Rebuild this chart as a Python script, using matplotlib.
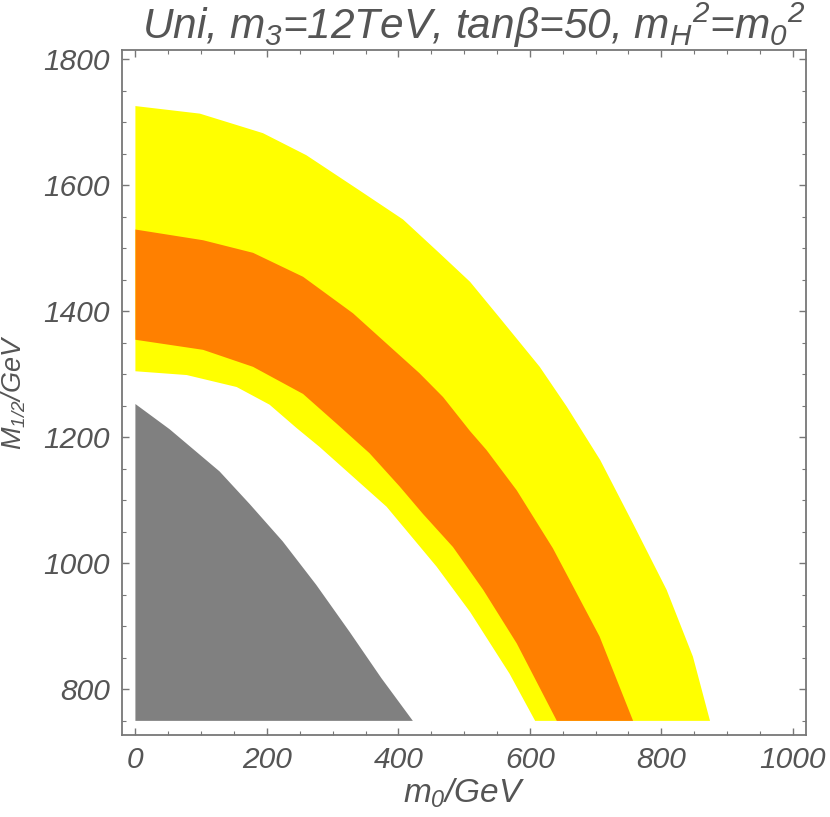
import matplotlib
matplotlib.use("Agg")
import matplotlib.pyplot as plt
from matplotlib.ticker import MultipleLocator

plt.rcParams['font.family'] = ['Liberation Sans', 'DejaVu Sans']
plt.rcParams['font.style'] = 'italic'
plt.rcParams['mathtext.fontset'] = 'custom'
plt.rcParams['mathtext.rm'] = 'Liberation Sans:italic'
plt.rcParams['mathtext.it'] = 'Liberation Sans:italic'
plt.rcParams['mathtext.sf'] = 'Liberation Sans:italic'

# boundary curves (m0 in GeV, M1/2 in GeV)
outer_yellow_x = [0, 98, 194, 260, 341, 407, 463, 509, 554, 615, 656, 707, 757, 808, 848, 874]
outer_yellow_y = [1726, 1714, 1683, 1648, 1592, 1546, 1492, 1447, 1390, 1312, 1249, 1164, 1063, 958, 852, 750]

inner_yellow_x = [0, 78, 154, 204, 245, 280, 382, 458, 509, 569, 608]
inner_yellow_y = [1305, 1299, 1280, 1252, 1215, 1185, 1090, 995, 923, 825, 750]

orange_top_x = [0, 103, 179, 255, 331, 382, 432, 468, 509, 534, 580, 635, 706, 757]
orange_top_y = [1530, 1513, 1493, 1455, 1397, 1349, 1302, 1264, 1210, 1180, 1116, 1024, 884, 750]

orange_bot_x = [0, 103, 179, 255, 308, 356, 402, 437, 483, 529, 580, 641]
orange_bot_y = [1355, 1339, 1312, 1269, 1220, 1175, 1122, 1079, 1026, 958, 873, 750]

gray_x = [0, 52, 128, 174, 224, 275, 326, 374, 422]
gray_y = [1253, 1213, 1146, 1094, 1035, 966, 891, 818, 750]

y_floor = 750

txt_color = '#555555'
frame_color = '#777777'


def band(top_x, top_y, bot_x, bot_y):
    # polygon between an upper and a lower boundary curve
    xs = list(top_x) + list(reversed(bot_x))
    ys = list(top_y) + list(reversed(bot_y))
    return xs, ys


fig = plt.figure(figsize=(8.3, 8.17), dpi=100)
ax = fig.add_axes([0.1473, 0.1007, 0.8238, 0.8381])

xs, ys = band(outer_yellow_x, outer_yellow_y, inner_yellow_x, inner_yellow_y)
ax.fill(xs, ys, color='#FFFF00', lw=0)
xs, ys = band(orange_top_x, orange_top_y, orange_bot_x, orange_bot_y)
ax.fill(xs, ys, color='#FF8000', lw=0)
ax.fill(gray_x + [0], gray_y + [y_floor], color='#808080', lw=0)

ax.set_xlim(-20, 1020)
ax.set_ylim(728, 1815)

ax.xaxis.set_major_locator(MultipleLocator(200))
ax.xaxis.set_minor_locator(MultipleLocator(50))
ax.yaxis.set_major_locator(MultipleLocator(200))
ax.yaxis.set_minor_locator(MultipleLocator(50))
ax.tick_params(which='both', direction='in', top=True, right=True, color=frame_color,
               labelcolor=txt_color, labelsize=21.5)
ax.tick_params(which='major', length=5, width=1)
ax.tick_params(which='minor', length=3, width=0.8)
ax.tick_params(axis='x', pad=8)
ax.tick_params(axis='y', pad=9)
for s in ax.spines.values():
    s.set_color(frame_color)
    s.set_linewidth(1.3)

ax.set_xlabel(r'$m_0$/GeV', fontsize=24, color=txt_color, labelpad=2)
ax.set_ylabel(r'$M_{1/2}$/GeV', fontsize=19.5, color=txt_color)
ax.yaxis.set_label_coords(-0.138, 0.5)
ax.set_title(r'Uni, $m_3$=12TeV, tan$\beta$=50, $m_H{}^2$=$m_0{}^2$',
             fontsize=30.5, color=txt_color, pad=6, x=0.515)

fig.savefig('out.png', dpi=100)
